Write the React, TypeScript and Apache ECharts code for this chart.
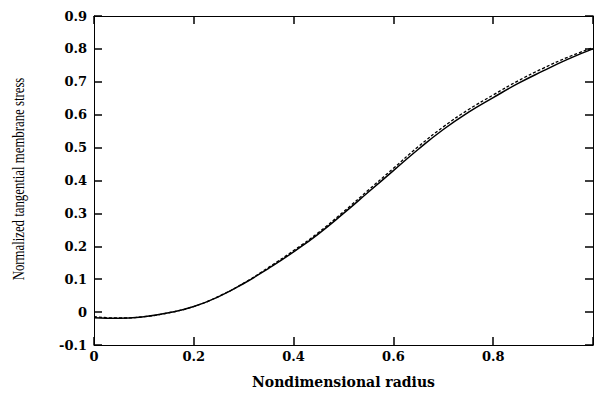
import React, { useEffect, useRef } from "react";
import * as echarts from "echarts";

const radius = [0, 0.05, 0.1, 0.15, 0.2, 0.25, 0.3, 0.35, 0.4, 0.45, 0.5, 0.55, 0.6, 0.65, 0.7, 0.75, 0.8, 0.85, 0.9, 0.95, 1.0];
const solidStress = [-0.017, -0.019, -0.014, -0.002, 0.017, 0.047, 0.087, 0.133, 0.183, 0.238, 0.3, 0.365, 0.43, 0.495, 0.555, 0.607, 0.652, 0.695, 0.733, 0.769, 0.8];
const dashedStress = [-0.014, -0.018, -0.014, -0.002, 0.017, 0.048, 0.088, 0.136, 0.187, 0.242, 0.305, 0.371, 0.437, 0.503, 0.563, 0.615, 0.66, 0.703, 0.741, 0.775, 0.804];
const xTickLabels = ["0", "0.2", "0.4", "0.6", "0.8"];
const yTickLabels = ["-0.1", "0", "0.1", "0.2", "0.3", "0.4", "0.5", "0.6", "0.7", "0.8", "0.9"];
const yTitle = "Normalized tangential membrane stress";
const xTitle = "Nondimensional radius";

function fmt(v: number, allowed: string[]) {
  const r = Math.round(v * 10) / 10;
  const s = r === 0 ? "0" : String(r);
  return allowed.includes(s) ? s : "";
}

export default function App() {
  const ref = useRef<HTMLDivElement>(null);
  useEffect(() => {
    if (!ref.current) return;
    const chart = echarts.init(ref.current, null, { renderer: "svg" });
    const tickFont = { fontFamily: "DejaVu Serif", fontWeight: "bold" as const, fontSize: 13, color: "#000" };
    const line = () => ({ show: true, onZero: false, lineStyle: { color: "#000", width: 1 } });
    const tick = () => ({ show: true, inside: true, length: 8, lineStyle: { color: "#000", width: 1.5 } });
    const xBase = { type: "value", min: 0, max: 1, interval: 0.2, splitLine: { show: false } };
    const yBase = { type: "value", min: -0.1, max: 0.9, interval: 0.1, splitLine: { show: false } };
    chart.setOption({
      animation: false,
      backgroundColor: "#fff",
      grid: { left: 94, top: 16, width: 503, height: 329, containLabel: false },
      graphic: [
        {
          type: "text",
          x: 18,
          y: 179,
          rotation: Math.PI / 2,
          scaleX: 0.8,
          style: {
            text: yTitle,
            fontFamily: "Liberation Serif",
            fontSize: 16,
            fill: "#000",
            align: "center",
            verticalAlign: "middle",
          },
        },
      ],
      xAxis: [
        {
          ...xBase,
          position: "bottom",
          axisLine: line(),
          axisTick: tick(),
          axisLabel: { ...tickFont, margin: 5, formatter: (v: number) => fmt(v, xTickLabels) },
          name: xTitle,
          nameLocation: "middle",
          nameGap: 30,
          nameTextStyle: { fontFamily: "DejaVu Serif", fontWeight: "bold", fontSize: 14, color: "#000" },
        },
        {
          ...xBase,
          position: "top",
          axisLine: line(),
          axisTick: tick(),
          axisLabel: { show: false },
        },
      ],
      yAxis: [
        {
          ...yBase,
          position: "left",
          axisLine: line(),
          axisTick: tick(),
          axisLabel: { ...tickFont, margin: 7, formatter: (v: number) => fmt(v, yTickLabels) },
        },
        {
          ...yBase,
          position: "right",
          axisLine: line(),
          axisTick: tick(),
          axisLabel: { show: false },
        },
      ],
      series: [
        {
          type: "line",
          data: radius.map((r, i) => [r, solidStress[i]]),
          smooth: true,
          showSymbol: false,
          lineStyle: { color: "#000", width: 1.5, type: "solid" },
        },
        {
          type: "line",
          data: radius.map((r, i) => [r, dashedStress[i]]),
          smooth: true,
          showSymbol: false,
          lineStyle: { color: "#000", width: 1.3, type: [3, 2] },
        },
      ],
    });
    return () => chart.dispose();
  }, []);
  return <div ref={ref} style={{ position: "fixed", left: 0, top: 0, width: 596, height: 397 }} />;
}
